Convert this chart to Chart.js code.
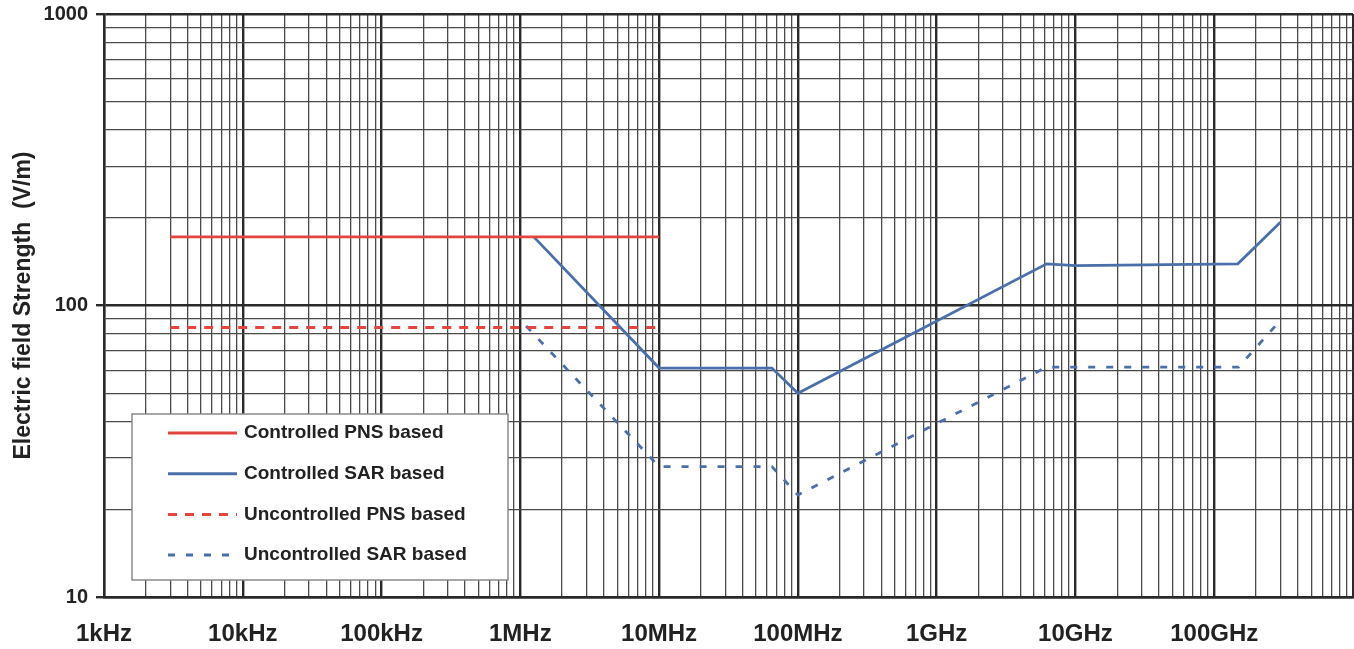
<!DOCTYPE html>
<html>
<head>
<meta charset="utf-8">
<title>Electric field strength limits</title>
<script src="https://cdn.jsdelivr.net/npm/chart.js@4.4.1/dist/chart.umd.min.js"></script>
<style>
  html, body { margin: 0; padding: 0; background: #fff; }
  #wrap { width: 1354px; height: 649px; }
</style>
</head>
<body>
<div id="wrap"><canvas id="plot"></canvas></div>
<script>
// axis decades (powers of ten) and their labels
const xDecades = [3, 4, 5, 6, 7, 8, 9, 10, 11, 12];
const xTickLabels = ["1kHz", "10kHz", "100kHz", "1MHz", "10MHz", "100MHz", "1GHz", "10GHz", "100GHz", ""];
const yDecades = [1, 2, 3];
const yTickLabels = ["10", "100", "1000"];
const mantissas = [1, 2, 3, 4, 5, 6, 7, 8, 9];

// series (Hz, V/m)
const ctrlPnsFreq = [3e3, 1e7];
const ctrlPnsE = [172, 172];

const ctrlSarFreq = [1.25e6, 1e7, 6.5e7, 1e8, 6.2e9, 1e10, 1.48e11, 3e11];
const ctrlSarE = [172, 61, 61, 50, 139, 137, 139, 193];

const unctrlPnsFreq = [3e3, 1e7];
const unctrlPnsE = [84, 84];

const unctrlSarFreq = [1.1e6, 1e7, 6.5e7, 1e8, 6.2e9, 1.5e11, 3e11];
const unctrlSarE = [85, 28, 28, 22.4, 61.5, 61.5, 89];

const FONT = "'Liberation Sans', Arial, sans-serif";
const RED = "#e2463e";
const BLUE = "#4b6fa8";

function toPoints(xs, ys) {
  return xs.map((x, i) => ({ x: x, y: ys[i] }));
}

function logTicks(decades) {
  const out = [];
  decades.forEach((d, i) => {
    const last = i === decades.length - 1;
    (last ? [1] : mantissas).forEach((m) => out.push({ value: m * Math.pow(10, d) }));
  });
  return out;
}

function isMajor(v) {
  const e = Math.log10(v);
  return Math.abs(e - Math.round(e)) < 1e-9;
}

function gridWidth(c) {
  if (!c.tick) return 1;
  return isMajor(c.tick.value) ? 2.4 : 1.3;
}

function gridColor(c) {
  if (!c.tick) return "#333";
  return isMajor(c.tick.value) ? "#2a2a2a" : "#4a4a4a";
}

const boxLegendPlugin = {
  id: "boxLegend",
  afterDatasetsDraw: (chart) => {
    const ctx = chart.ctx;
    const area = chart.chartArea;
    const x = area.left + 28;
    const y = area.bottom - 183;
    const w = 376;
    const h = 166;
    ctx.save();
    ctx.fillStyle = "#fff";
    ctx.fillRect(x, y, w, h);
    ctx.strokeStyle = "#8a8a8a";
    ctx.lineWidth = 1.5;
    ctx.strokeRect(x, y, w, h);
    ctx.font = "bold 19px " + FONT;
    ctx.textBaseline = "middle";
    chart.data.datasets.forEach((ds, i) => {
      const cy = y + 19 + i * 40.7;
      ctx.strokeStyle = ds.borderColor;
      ctx.lineWidth = 3;
      ctx.setLineDash(ds.borderDash || []);
      ctx.beginPath();
      ctx.moveTo(x + 36, cy);
      ctx.lineTo(x + 105, cy);
      ctx.stroke();
      ctx.setLineDash([]);
      ctx.fillStyle = "#222";
      ctx.fillText(ds.label, x + 112, cy);
    });
    ctx.restore();
  },
};

const config = {
  type: "line",
  plugins: [boxLegendPlugin],
  data: {
    datasets: [
      {
        label: "Controlled PNS based",
        data: toPoints(ctrlPnsFreq, ctrlPnsE),
        borderColor: RED,
        borderWidth: 2.8,
        pointRadius: 0,
      },
      {
        label: "Controlled SAR based",
        data: toPoints(ctrlSarFreq, ctrlSarE),
        borderColor: BLUE,
        borderWidth: 2.8,
        pointRadius: 0,
      },
      {
        label: "Uncontrolled PNS based",
        data: toPoints(unctrlPnsFreq, unctrlPnsE),
        borderColor: RED,
        borderDash: [9, 8],
        borderWidth: 3,
        pointRadius: 0,
      },
      {
        label: "Uncontrolled SAR based",
        data: toPoints(unctrlSarFreq, unctrlSarE),
        borderColor: BLUE,
        borderDash: [7, 11],
        borderWidth: 2.8,
        pointRadius: 0,
      },
    ],
  },
  options: {
    responsive: true,
    maintainAspectRatio: false,
    animation: false,
    layout: { padding: { top: 14, right: 1, left: 0, bottom: 0 } },
    plugins: {
      legend: { display: false },
      tooltip: { enabled: false },
    },
    elements: { line: { tension: 0 } },
    scales: {
      x: {
        type: "logarithmic",
        min: 1e3,
        max: 1e12,
        afterBuildTicks: (s) => { s.ticks = logTicks(xDecades); },
        afterFit: (s) => {
          s.height = 52;
          s.paddingLeft = 0;
          s.paddingRight = 0;
        },
        grid: {
          drawTicks: false,
          lineWidth: gridWidth,
          color: gridColor,
        },
        border: { display: true, width: 2.4, color: "#2a2a2a" },
        ticks: {
          autoSkip: false,
          maxRotation: 0,
          padding: 23,
          color: "#222",
          font: { family: FONT, size: 24, weight: "bold" },
          callback: (v) => {
            if (!isMajor(v)) return "";
            return xTickLabels[xDecades.indexOf(Math.round(Math.log10(v)))] || "";
          },
        },
      },
      y: {
        type: "logarithmic",
        min: 10,
        max: 1000,
        afterBuildTicks: (s) => { s.ticks = logTicks(yDecades); },
        afterFit: (s) => {
          s.width = 104;
          s.paddingTop = 0;
          s.paddingBottom = 0;
        },
        grid: {
          tickLength: 8,
          lineWidth: gridWidth,
          color: gridColor,
          tickColor: (c) => (c.tick && isMajor(c.tick.value) ? "#2a2a2a" : "rgba(0,0,0,0)"),
        },
        border: { display: true, width: 2.4, color: "#2a2a2a" },
        ticks: {
          autoSkip: false,
          padding: 8,
          color: "#222",
          font: { family: FONT, size: 20, weight: "bold" },
          callback: (v) => {
            if (!isMajor(v)) return "";
            return yTickLabels[yDecades.indexOf(Math.round(Math.log10(v)))] || "";
          },
        },
        title: {
          display: true,
          text: "Electric field Strength  (V/m)",
          color: "#222",
          padding: { top: 10, bottom: 0 },
          font: { family: FONT, size: 23, weight: "bold" },
        },
      },
    },
  },
};

const canvas = document.getElementById("plot");
const chart = new Chart(canvas.getContext("2d"), config);
</script>
</body>
</html>
